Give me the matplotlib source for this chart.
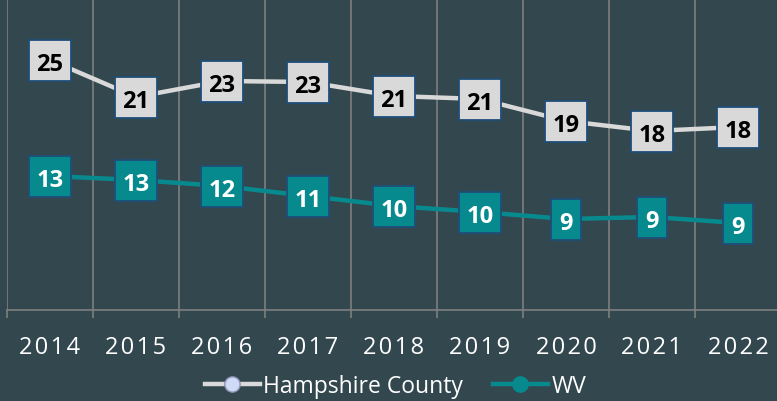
import matplotlib
matplotlib.use("Agg")
import matplotlib.pyplot as plt
from matplotlib.lines import Line2D
from matplotlib.path import Path
import numpy as np

years = ["2014", "2015", "2016", "2017", "2018", "2019", "2020", "2021", "2022"]
hampshire = [25.0, 21.3, 22.9, 22.8, 21.4, 21.1, 18.9, 17.9, 18.3]
wv = [13.4, 13.0, 12.4, 11.4, 10.4, 9.8, 9.1, 9.3, 8.7]
series_names = ["Hampshire County", "WV"]

BG = "#33474f"
TEAL = "#078a8e"
LIGHT = "#d9d9d9"
EDGE = "#1f4e79"
GRID = "#7f7f7f"
FONT = ["Open Sans", "DejaVu Sans"]
LABEL_SIZE = 17

fig = plt.figure(figsize=(7.77, 4.02), dpi=100, facecolor=BG)
ax = fig.add_axes([7 / 777, 91 / 402, 774 / 777, 311 / 402])
ax.set_facecolor(BG)

x = np.arange(len(years))
ax.set_xlim(-0.5, len(years) - 0.5)
ax.set_ylim(0, 31.1)

ax.plot(x, hampshire, color=LIGHT, lw=3.2, zorder=2, solid_capstyle="butt")
ax.plot(x, wv, color=TEAL, lw=3.2, zorder=2, solid_capstyle="butt")

SHIFT_PT = 2.7  # move digits down so they sit visually centred


def labelbox(x0, y0, width, height, mutation_size):
    px = 0.33 * mutation_size
    py = 0.36 * mutation_size
    up = SHIFT_PT / LABEL_SIZE * mutation_size
    bx0, by0 = x0 - px, y0 - py + up
    bx1, by1 = x0 + width + px, y0 + height + py + up
    return Path([(bx0, by0), (bx1, by0), (bx1, by1), (bx0, by1), (bx0, by0)], closed=True)


def label(xi, v, fc, tc):
    ax.annotate(f"{v:.0f}", xy=(xi, v), xytext=(0, -SHIFT_PT), textcoords="offset points",
                ha="center", va="center", fontsize=LABEL_SIZE, fontweight="bold", color=tc,
                family=FONT, zorder=4,
                bbox=dict(boxstyle=labelbox, fc=fc, ec=EDGE, lw=1.3))

for xi, v in zip(x, hampshire):
    label(xi, v, LIGHT, "black")
for xi, v in zip(x, wv):
    label(xi, v, TEAL, "white")

# gridlines at category boundaries
bounds = np.arange(-0.5, len(years), 1.0)
ax.set_xticks(bounds, minor=True)
ax.set_xticks(x)
spaced = ["\u200a".join(list(y)) for y in years]
ax.set_xticklabels(spaced, fontsize=17, color="white", family=FONT)
ax.tick_params(axis="x", which="major", length=0, pad=18)
ax.tick_params(axis="x", which="minor", length=6, width=1.2, color=GRID)
ax.grid(axis="x", which="minor", color=GRID, lw=1.2)
ax.set_yticks([])
for s in ["top", "right", "left"]:
    ax.spines[s].set_visible(False)
ax.spines["bottom"].set_color(GRID)
ax.spines["bottom"].set_linewidth(1.2)

handles = [
    Line2D([0], [0], color=LIGHT, lw=3.2, marker="o", markersize=11,
           markerfacecolor="#cfdaf7", markeredgecolor="#8d93b5"),
    Line2D([0], [0], color=TEAL, lw=3.2, marker="o", markersize=11,
           markerfacecolor=TEAL, markeredgecolor=TEAL),
]
leg = fig.legend(handles, series_names, loc="center", bbox_to_anchor=(0.509, 0.037),
                 ncol=2, frameon=False, handlelength=2.4, handletextpad=0.15,
                 columnspacing=1.3, prop={"family": FONT, "size": 16.5})
for t in leg.get_texts():
    t.set_color("white")

fig.savefig("out.png", dpi=100, facecolor=BG)
